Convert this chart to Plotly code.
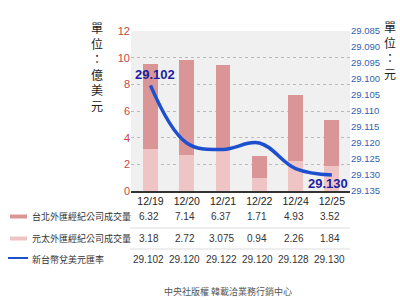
import plotly.graph_objects as go

categories = ["12/19", "12/20", "12/21", "12/22", "12/24", "12/25"]
taipei_vol = [6.32, 7.14, 6.37, 1.71, 4.93, 3.52]
yuanta_vol = [3.18, 2.72, 3.075, 0.94, 2.26, 1.84]
twd_rate = [29.102, 29.120, 29.122, 29.120, 29.128, 29.130]
taipei_txt = ["6.32", "7.14", "6.37", "1.71", "4.93", "3.52"]
yuanta_txt = ["3.18", "2.72", "3.075", "0.94", "2.26", "1.84"]
rate_txt = ["29.102", "29.120", "29.122", "29.120", "29.128", "29.130"]
series_names = ["台北外匯經紀公司成交量", "元太外匯經紀公司成交量", "新台幣兌美元匯率"]
left_ticks = [0, 2, 4, 6, 8, 10, 12]
right_ticks = [29.085, 29.090, 29.095, 29.100, 29.105, 29.110, 29.115,
               29.120, 29.125, 29.130, 29.135]

DARK = "rgb(218,150,150)"
LIGHT = "rgb(238,196,196)"
BLUE = "rgb(30,80,205)"
CJK = "Noto Sans CJK TC"
NUM = "Liberation Sans Narrow, Liberation Sans, Arial"

W, H = 400, 300
L, R, T, B = 131, 350, 31, 191


def px(x):
    return (x - L) / (R - L)


def py(y):
    return (B - y) / (B - T)


fig = go.Figure()
fig.add_trace(go.Bar(x=categories, y=yuanta_vol, marker_color=LIGHT, width=0.41,
                     marker_line_width=0, name=series_names[1], showlegend=False))
fig.add_trace(go.Bar(x=categories, y=taipei_vol, marker_color=DARK, width=0.41,
                     marker_line_width=0, name=series_names[0], showlegend=False))
fig.add_trace(go.Scatter(x=categories, y=twd_rate, yaxis="y2", mode="lines",
                         line=dict(color=BLUE, width=3.5, shape="spline", smoothing=1.1),
                         name=series_names[2], showlegend=False))

fig.update_layout(
    width=W, height=H, barmode="stack",
    margin=dict(l=L, r=W - R, t=T, b=H - B),
    paper_bgcolor="white", plot_bgcolor="rgb(240,240,240)",
    xaxis=dict(type="category", showline=True, linecolor="#333", linewidth=1.5,
               tickfont=dict(family=NUM, size=10.5, color="#222"), ticks="",
               showgrid=False, zeroline=False),
    yaxis=dict(range=[0, 12], tickvals=left_ticks, showgrid=True, griddash="dot",
               gridcolor="#bbb", gridwidth=1, zeroline=False,
               tickfont=dict(family=NUM, size=11, color="rgb(200,70,70)"), ticks=""),
    yaxis2=dict(overlaying="y", side="right", range=[29.135, 29.085],
                tickvals=right_ticks, tickformat=".3f", showgrid=False, zeroline=False,
                tickfont=dict(family=NUM, size=9.5, color="rgb(50,100,175)"), ticks=""),
    showlegend=False,
)

annos = []
# axis titles
annos.append(dict(xref="paper", yref="paper", x=px(97), y=py(66), text="<br>".join("單位：億美元"),
                  showarrow=False, font=dict(family=CJK, size=12, color="#222"), xanchor="center",
                  yanchor="middle"))
annos.append(dict(xref="paper", yref="paper", x=px(390), y=py(50), text="<br>".join("單位：元"),
                  showarrow=False, font=dict(family=CJK, size=12, color="#222"), xanchor="center",
                  yanchor="middle"))
# line labels
annos.append(dict(x=categories[0], y=twd_rate[0], xref="x", yref="y2", text="<b>29.102</b>",
                  showarrow=False, yshift=11, xshift=4, xanchor="center", yanchor="middle",
                  font=dict(family=NUM, size=13, color="rgb(30,30,160)")))
annos.append(dict(x=categories[-1], y=twd_rate[-1], xref="x", yref="y2", text="<b>29.130</b>",
                  showarrow=False, yshift=-8, xshift=-4, xanchor="center", yanchor="middle",
                  font=dict(family=NUM, size=13, color="rgb(30,30,160)")))

row_y = [216, 238, 259]
rows = [taipei_txt, yuanta_txt, rate_txt]
for ry, vals in zip(row_y, rows):
    for c, v in zip(categories, vals):
        annos.append(dict(x=c, xref="x", y=py(ry), yref="paper", text=v, showarrow=False,
                          xshift=-2, xanchor="center", yanchor="middle",
                          font=dict(family=NUM, size=10, color="#333")))
for ry, name in zip(row_y, series_names):
    annos.append(dict(xref="paper", yref="paper", x=px(30), y=py(ry), text=name,
                      showarrow=False, xanchor="left", yanchor="middle",
                      font=dict(family=CJK, size=9, color="#333")))
annos.append(dict(xref="paper", yref="paper", x=px(228), y=py(291),
                  text="中央社版權 韓載洽業務行銷中心", showarrow=False,
                  xanchor="center", yanchor="middle",
                  font=dict(family=CJK, size=9, color="#555")))

shapes = [
    dict(type="rect", xref="paper", yref="paper", x0=px(10), x1=px(27), y0=py(214.5), y1=py(218.5),
         fillcolor=DARK, line_width=0),
    dict(type="rect", xref="paper", yref="paper", x0=px(10), x1=px(27), y0=py(236.5), y1=py(240.5),
         fillcolor=LIGHT, line_width=0),
    dict(type="line", xref="paper", yref="paper", x0=px(8), x1=px(28), y0=py(258), y1=py(258),
         line=dict(color=BLUE, width=2)),
    dict(type="line", xref="paper", yref="paper", x0=px(130), x1=px(350), y0=py(228), y1=py(228),
         line=dict(color="#ddd", width=1)),
    dict(type="line", xref="paper", yref="paper", x0=px(130), x1=px(350), y0=py(249), y1=py(249),
         line=dict(color="#ddd", width=1)),
]
fig.update_layout(annotations=annos, shapes=shapes)
fig.write_html("out.html")
